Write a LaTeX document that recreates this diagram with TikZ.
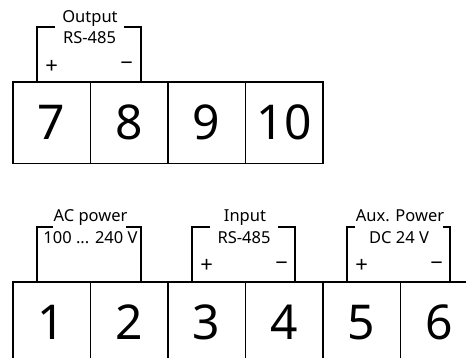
\documentclass[tikz,border=0pt]{standalone}
\usepackage{fontspec}
\setmainfont{Noto Sans}
\begin{document}
\begin{tikzpicture}[x=1pt,y=-1pt,line width=1.8pt,
  term/.style={draw,minimum width=77.5pt,minimum height=81.7pt,inner sep=0pt,
    anchor=north west,font=\fontsize{48}{48}\selectfont},
  lbl/.style={font=\fontsize{16.5}{20}\selectfont,inner sep=0pt,anchor=base},
  pm/.style={font=\fontsize{22}{22}\selectfont,inner sep=0pt},
  brk/.style={line width=1.8pt}]
\useasboundingbox (0,0) rectangle (466,358);
% top row
\node[term] (t7)  at (12,81)    {7};
\node[term] (t8)  at (89.5,81)  {8};
\node[term] (t9)  at (167,81)   {9};
\node[term] (t10) at (244.5,81) {10};
% bottom row
\node[term] (b1) at (12,280.7)    {1};
\node[term] (b2) at (89.5,280.7)  {2};
\node[term] (b3) at (167,280.7)   {3};
\node[term] (b4) at (244.5,280.7) {4};
\node[term] (b5) at (322,280.7)   {5};
\node[term] (b6) at (399.5,280.7) {6};
% output bracket
\draw[brk] (36.7,81) -- (36.7,27.3) -- (55,27.3);
\draw[brk] (124,27.3) -- (140.7,27.3) -- (140.7,81);
\node[lbl] (outA) at (90,22.7) {Output};
\node[lbl] (outB) at (89.5,43.3) {RS-485};
\node[pm] (outP) at (51.7,66.5) {+};
\node[pm] (outM) at (126.7,66.5) {−};
% AC power bracket
\draw[brk] (36.7,280.7) -- (36.7,226.7) -- (53.3,226.7);
\draw[brk] (126,226.7) -- (140.7,226.7) -- (140.7,280.7);
\node[lbl] (acA) at (90.5,222) {AC power};
\node[lbl] (acB) at (90.5,243.5) {100 ... 240 V};
% Input bracket
\draw[brk] (192.3,280.7) -- (192.3,226.7) -- (210,226.7);
\draw[brk] (278.3,226.7) -- (295,226.7) -- (295,280.7);
\node[lbl] (inA) at (245,222) {Input};
\node[lbl] (inB) at (244,243.5) {RS-485};
\node[pm] (inP) at (206.7,265.8) {+};
\node[pm] (inM) at (281.7,265.8) {−};
% Aux power bracket
\draw[brk] (346.7,280.7) -- (346.7,226.7) -- (355,226.7);
\draw[brk] (443.3,226.7) -- (450,226.7) -- (450,280.7);
\node[lbl] (auxA) at (400,222) {Aux. Power};
\node[lbl] (auxB) at (399,243.5) {DC 24 V};
\node[pm] (auxP) at (361.7,265.8) {+};
\node[pm] (auxM) at (436.7,265.8) {−};
\end{tikzpicture}
\end{document}
